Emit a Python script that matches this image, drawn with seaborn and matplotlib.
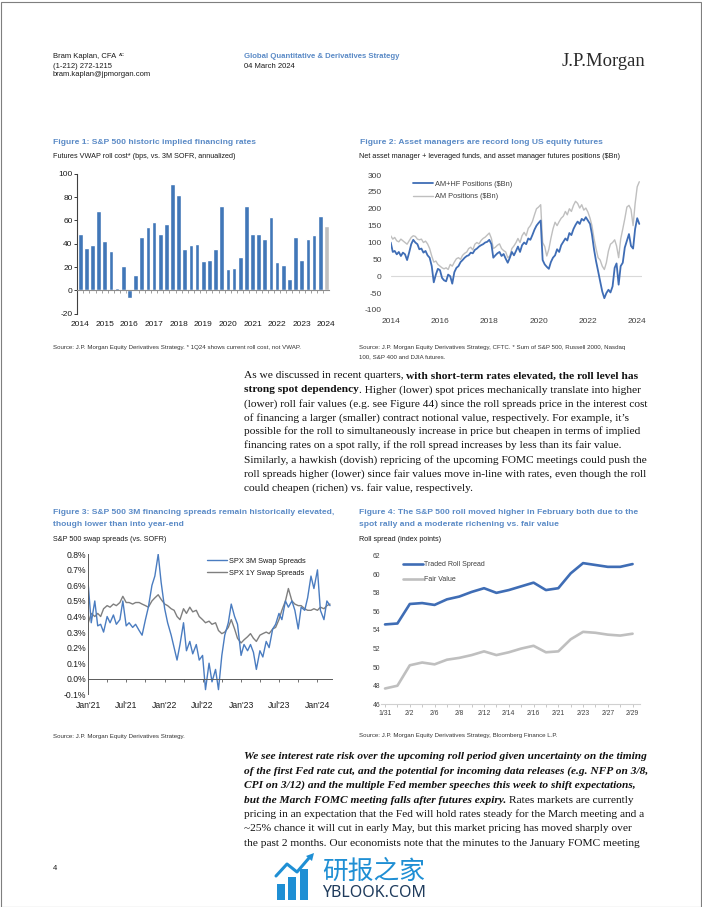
import numpy as np
import pandas as pd
import matplotlib
matplotlib.use("Agg")
import matplotlib.pyplot as plt
import matplotlib.dates as mdates
from matplotlib.patches import Rectangle, Polygon
from matplotlib.lines import Line2D
import seaborn as sns

W, H = 702, 907

# ---------------- data ----------------
# Figure 1: quarterly VWAP roll cost (bps), 1Q14 .. 1Q24 (last bar = current roll)
fig1_years = list(range(2014, 2025))
fig1_quarters = [f"{q}Q{str(y)[2:]}" for y in range(2014, 2024) for q in range(1, 5)] + ["1Q24"]
roll_cost = [48, 36.5, 38.5, 68, 42, 34, 1.7, 21, -6.5, 13, 45.5, 54.5,
             59, 48, 56.5, 91, 81.5, 35.5, 38.5, 40, 25, 26, 35.5, 72.5,
             18.5, 19.5, 29, 72, 48, 48.5, 44, 62.5, 24, 21.5, 9.5, 46,
             26, 44, 47.5, 64, 55]

# Figure 2: monthly futures positions ($Bn), Jan-2014 .. Feb-2024
am_hf = [100, 72, 75, 65, 72, 60, 70, 65, 48, 70, 95, 108,
         100, 95, 80, 82, 70, 75, 62, 55, 30, -18, 5, 22,
         18, -5, -12, -15, 5, 0, -22, 12, 25, 30, 42, 48,
         55, 60, 62, 70, 68, 78, 82, 88, 92, 95, 100, 102,
         108, 95, 55, 62, 68, 72, 60, 66, 52, 40, 55, 72,
         62, 75, 88, 72, 92, 100, 95, 112, 108, 122, 138, 150,
         158, 165, 48, 35, 28, 22, 42, 55, 62, 80, 72, 92,
         102, 112, 106, 128, 122, 140, 152, 162, 155, 170, 165, 175,
         165, 155, 125, 80, 45, 15, -15, -45, -65, -50, -40, -48,
         -30, 25, 38, -25, 30, 40, 85, 105, 125, 90, 82, 140,
         172, 155]
am_only = [120, 110, 115, 105, 102, 110, 105, 100, 95, 105, 115, 120,
           118, 110, 108, 110, 100, 104, 96, 82, 60, 42, 45, 35,
           30, 25, 22, 25, 20, 35, 30, 42, 52, 55, 50, 62,
           68, 72, 82, 86, 78, 95, 100, 96, 106, 112, 116, 122,
           128, 112, 82, 86, 92, 96, 82, 76, 72, 55, 60, 82,
           90, 100, 112, 100, 120, 130, 120, 142, 150, 162, 182, 200,
           205, 212, 100, 88, 60, 80, 112, 140, 160, 150, 162, 172,
           178, 192, 182, 200, 192, 210, 222, 216, 202, 212, 196, 202,
           190, 172, 150, 112, 82, 55, 48, 30, 20, 40, 75, 95,
           100, 108, 90, 55, 110, 140, 170, 205, 210, 198, 150, 215,
           265, 280]
fig2_years = [2014, 2016, 2018, 2020, 2022, 2024]

# Figure 3: semi-monthly swap spreads (%), 1-Jan-2021 .. 1-Mar-2024
spread_3m = [0.60, 0.36, 0.50, 0.34, 0.35, 0.30, 0.40, 0.36, 0.41, 0.35, 0.38, 0.50,
             0.34, 0.36, 0.33, 0.35, 0.31, 0.28, 0.38, 0.46, 0.60, 0.66, 0.80, 0.62,
             0.45, 0.36, 0.28, 0.20, 0.12, 0.22, 0.36, 0.18, 0.24, 0.16, 0.22, 0.12,
             0.15, -0.07, 0.10, -0.02, 0.06, -0.07, 0.15, 0.28, 0.36, 0.48, 0.40, 0.35,
             0.15, 0.22, 0.18, 0.22, 0.17, 0.06, 0.18, 0.14, 0.24, 0.20, 0.32, 0.35,
             0.42, 0.38, 0.50, 0.46, 0.50, 0.44, 0.32, 0.46, 0.44, 0.52, 0.66, 0.58,
             0.70, 0.44, 0.38, 0.50, 0.47]
spread_1y = [0.36, 0.42, 0.40, 0.42, 0.40, 0.45, 0.47, 0.46, 0.48, 0.47, 0.49, 0.53,
             0.49, 0.49, 0.48, 0.49, 0.49, 0.48, 0.47, 0.46, 0.50, 0.52, 0.54, 0.51,
             0.48, 0.47, 0.45, 0.44, 0.40, 0.38, 0.45, 0.42, 0.46, 0.43, 0.44, 0.40,
             0.38, 0.36, 0.37, 0.35, 0.36, 0.31, 0.29, 0.30, 0.33, 0.38, 0.32, 0.26,
             0.23, 0.25, 0.27, 0.29, 0.26, 0.24, 0.28, 0.29, 0.30, 0.29, 0.32, 0.33,
             0.38, 0.44, 0.50, 0.58, 0.50, 0.48, 0.47, 0.47, 0.45, 0.44, 0.44, 0.45,
             0.44, 0.46, 0.45, 0.47, 0.48]

# Figure 4: daily roll spread (index points)
roll_days = ["1/31", "2/1", "2/2", "2/5", "2/6", "2/7", "2/8", "2/9", "2/12", "2/13", "2/14",
             "2/15", "2/16", "2/20", "2/21", "2/22", "2/23", "2/26", "2/27", "2/28", "2/29"]
traded_roll = [54.6, 54.7, 56.8, 56.9, 56.7, 57.3, 57.6, 58.1, 58.5, 58.0, 58.3,
               58.7, 59.1, 58.3, 58.5, 60.1, 61.2, 61.0, 60.8, 60.8, 61.1]
fair_value = [47.7, 48.0, 50.2, 50.5, 50.3, 50.8, 51.0, 51.3, 51.7, 51.3, 51.6,
              52.0, 52.3, 51.6, 51.7, 53.0, 53.8, 53.7, 53.5, 53.4, 53.6]

# ---------------- styling ----------------
sns.set_theme(style="white")
plt.rcParams["font.family"] = ["Liberation Sans", "DejaVu Sans"]
plt.rcParams["axes.unicode_minus"] = False

TITLE_BLUE = "#5A8AC6"
BAR_BLUE = "#4177B8"
LINE_BLUE = "#3F6DB5"
LIGHT_GRAY = "#BFBFBF"
SERIF = ["Liberation Serif", "DejaVu Serif"]

fig = plt.figure(figsize=(W / 100, H / 100), dpi=100)
renderer = fig.canvas.get_renderer()


def fx(x):
    return x / W


def fy(y):
    return 1 - y / H


def axes_px(x0, y0, x1, y1):
    return fig.add_axes([fx(x0), fy(y1), (x1 - x0) / W, (y1 - y0) / H])


def txt(x, y, s, size, **kw):
    kw.setdefault("va", "center")
    kw.setdefault("color", "#1a1a1a")
    return fig.text(fx(x), fy(y), s, fontsize=size, **kw)


def runs(x, y, parts, size, family=SERIF, color="#111111"):
    # parts: (text, bold, italic); a leading space means a word gap
    cur = x
    gap = 0.25 * size * 100 / 72
    for s, b, it in parts:
        if s.startswith(" "):
            cur += gap
            s = s.lstrip()
        t = fig.text(fx(cur), fy(y), s, fontsize=size, family=family,
                     weight="bold" if b else "normal",
                     style="italic" if it else "normal",
                     va="baseline", color=color)
        cur += t.get_window_extent(renderer).width


# ---------------- header ----------------
txt(53, 57, "Bram Kaplan, CFA", 5.5)
txt(118.5, 54.5, "AC", 3.2)
txt(53, 66, "(1-212) 272-1215", 5.5)
txt(53, 75, "bram.kaplan@jpmorgan.com", 5.5)
txt(244, 57, "Global Quantitative & Derivatives Strategy", 5.6, weight="bold", color=TITLE_BLUE)
txt(244, 66, "04 March 2024", 5.5)
txt(562, 65.5, "J.P.Morgan", 13.4, family=SERIF, va="baseline", color="#2a2a2a")

# ---------------- Figure 1 ----------------
txt(53, 142.7, "Figure 1: S&P 500 historic implied financing rates", 6.1, weight="bold", color=TITLE_BLUE)
txt(53, 156.7, "Futures VWAP roll cost* (bps, vs. 3M SOFR, annualized)", 5.2)
txt(53, 347, "Source: J.P. Morgan Equity Derivatives Strategy. * 1Q24 shows current roll cost, not VWAP.",
    4.4, color="#333333")

ax1 = axes_px(77.1, 173.7, 329.4, 313.7)
df1 = pd.DataFrame({"quarter": fig1_quarters, "cost": roll_cost})
bar_colors = [BAR_BLUE] * (len(roll_cost) - 1) + [LIGHT_GRAY]
sns.barplot(data=df1, x="quarter", y="cost", hue="quarter", palette=bar_colors,
            legend=False, width=0.76, saturation=1, ax=ax1)
ax1.set_xlim(-0.5, len(roll_cost) - 0.5)
ax1.set_ylim(-20, 100)
ax1.set_yticks(range(-20, 101, 20))
ax1.set_xticks(range(0, len(roll_cost), 4))
ax1.set_xticklabels([str(y) for y in fig1_years])
ax1.set_xticks(np.arange(0.5, len(roll_cost) - 1, 1), minor=True)
ax1.set_xlabel("")
ax1.set_ylabel("")
for s in ["top", "right"]:
    ax1.spines[s].set_visible(False)
ax1.spines["bottom"].set_position(("data", 0))
ax1.spines["bottom"].set_color("#8c8c8c")
ax1.spines["bottom"].set_linewidth(0.8)
ax1.spines["left"].set_color("#404040")
ax1.spines["left"].set_linewidth(0.8)
ax1.tick_params(axis="x", which="major", length=0, pad=22, labelsize=6, colors="#1a1a1a")
ax1.tick_params(axis="x", which="minor", length=2.2, width=0.6, color="#8c8c8c", bottom=True)
ax1.tick_params(axis="y", length=2, width=0.6, pad=1.2, labelsize=6, colors="#1a1a1a", left=True)

# ---------------- Figure 2 ----------------
txt(360, 142.7, "Figure 2: Asset managers are record long US equity futures", 6.1, weight="bold", color=TITLE_BLUE)
txt(359, 157, "Net asset manager + leveraged funds, and asset manager futures positions ($Bn)", 5.2)
txt(359, 348, "Source: J.P. Morgan Equity Derivatives Strategy, CFTC. * Sum of S&P 500, Russell 2000, Nasdaq",
    4.4, color="#333333")
txt(359, 356.7, "100, S&P 400 and DJIA futures.", 4.4, color="#333333")

ax2 = axes_px(390.7, 175, 642.2, 310)
dates2 = pd.date_range("2014-01-01", periods=len(am_hf), freq="MS")
ax2.axhline(0, color="#D9D9D9", lw=0.8, zorder=0)
sns.lineplot(x=dates2, y=am_only, color=LIGHT_GRAY, lw=1.0, label="AM Positions ($Bn)", ax=ax2)
sns.lineplot(x=dates2, y=am_hf, color=LINE_BLUE, lw=1.3, label="AM+HF Positions ($Bn)", ax=ax2)
ax2.set_xlim(pd.Timestamp("2014-01-01"), pd.Timestamp("2024-03-15"))
ax2.set_ylim(-100, 300)
ax2.set_yticks(range(-100, 301, 50))
ax2.set_xticks([pd.Timestamp(f"{y}-01-01") for y in fig2_years])
ax2.set_xticklabels([str(y) for y in fig2_years])
ax2.set_xlabel("")
ax2.set_ylabel("")
sns.despine(ax=ax2, left=True, bottom=True)
ax2.tick_params(axis="both", length=0, labelsize=6, colors="#404040")
ax2.tick_params(axis="x", pad=6)
ax2.tick_params(axis="y", pad=6.5)
h, l = ax2.get_legend_handles_labels()
ax2.legend(h[::-1], l[::-1], loc="upper left", bbox_to_anchor=(fx(413), fy(180.5)),
           bbox_transform=fig.transFigure, frameon=False, fontsize=5.3, handlelength=2.7,
           handletextpad=0.3, borderpad=0, borderaxespad=0, labelspacing=0.75,
           labelcolor="#404040")

# ---------------- body paragraph 1 ----------------
body = 8.2
para1 = [
    [("As we discussed in recent quarters,", 0, 0), (" with short-term rates elevated, the roll level has", 1, 0)],
    [("strong spot dependency", 1, 0), (". Higher (lower) spot prices mechanically translate into higher", 0, 0)],
    [("(lower) roll fair values (e.g. see Figure 44) since the roll spreads price in the interest cost", 0, 0)],
    [("of financing a larger (smaller) contract notional value, respectively. For example, it\u2019s", 0, 0)],
    [("possible for the roll to simultaneously increase in price but cheapen in terms of implied", 0, 0)],
    [("financing rates on a spot rally, if the roll spread increases by less than its fair value.", 0, 0)],
    [("Similarly, a hawkish (dovish) repricing of the upcoming FOMC meetings could push the", 0, 0)],
    [("roll spreads higher (lower) since fair values move in-line with rates, even though the roll", 0, 0)],
    [("could cheapen (richen) vs. fair value, respectively.", 0, 0)],
]
for i, line in enumerate(para1):
    runs(244, 375 + 14 * i + 3.4, line, body)

# ---------------- Figure 3 ----------------
txt(53, 512.7, "Figure 3: S&P 500 3M financing spreads remain historically elevated,", 6.1,
    weight="bold", color=TITLE_BLUE)
txt(53, 524.5, "though lower than into year-end", 6.1, weight="bold", color=TITLE_BLUE)
txt(53, 539.3, "S&P 500 swap spreads (vs. SOFR)", 5.2)
txt(53, 736.7, "Source: J.P. Morgan Equity Derivatives Strategy.", 4.4, color="#333333")

ax3 = axes_px(88.3, 554.3, 331.7, 694.3)
dates3 = pd.date_range("2021-01-01", "2024-03-01", freq="SMS")
sns.lineplot(x=dates3, y=spread_1y, color="#7F7F7F", lw=1.0, label="SPX 1Y Swap Spreads", ax=ax3)
sns.lineplot(x=dates3, y=spread_3m, color="#4A7CC0", lw=1.0, label="SPX 3M Swap Spreads", ax=ax3)
ax3.set_xlim(pd.Timestamp("2021-01-01"), pd.Timestamp("2024-03-09"))
ax3.set_ylim(-0.1, 0.8)
ax3.set_yticks(np.arange(-0.1, 0.81, 0.1))
ax3.yaxis.set_major_formatter(plt.FuncFormatter(lambda v, p: f"{v:.1f}%"))
ax3.xaxis.set_major_locator(mdates.MonthLocator(bymonth=[1, 7]))
ax3.xaxis.set_minor_locator(mdates.MonthLocator(bymonth=[4, 10]))
ax3.xaxis.set_major_formatter(mdates.DateFormatter("%b'%y"))
ax3.set_xlabel("")
ax3.set_ylabel("")
for s in ["top", "right"]:
    ax3.spines[s].set_visible(False)
ax3.spines["bottom"].set_position(("data", 0))
ax3.spines["bottom"].set_color("#595959")
ax3.spines["bottom"].set_linewidth(0.7)
ax3.spines["left"].set_color("#595959")
ax3.spines["left"].set_linewidth(0.7)
ax3.tick_params(axis="x", which="both", length=2.5, width=0.6, color="#595959", bottom=True)
ax3.tick_params(axis="x", which="major", pad=13.5, labelsize=6.2, colors="#1a1a1a")
ax3.tick_params(axis="x", which="major", color="#595959")
ax3.tick_params(axis="y", length=0, pad=1.5, labelsize=6.2, colors="#1a1a1a")
h, l = ax3.get_legend_handles_labels()
ax3.legend(h[::-1], l[::-1], loc="upper left", bbox_to_anchor=(fx(206.7), fy(557.5)),
           bbox_transform=fig.transFigure, frameon=False, fontsize=5.3, handlelength=2.7,
           handletextpad=0.3, borderpad=0, borderaxespad=0, labelspacing=0.65,
           labelcolor="#1a1a1a")

# ---------------- Figure 4 ----------------
txt(359.3, 512.7, "Figure 4: The S&P 500 roll moved higher in February both due to the", 6.1,
    weight="bold", color=TITLE_BLUE)
txt(359.3, 524.5, "spot rally and a moderate richening vs. fair value", 6.1, weight="bold", color=TITLE_BLUE)
txt(359.3, 539.3, "Roll spread (index points)", 5.2)
txt(359.3, 735.3, "Source: J.P. Morgan Equity Derivatives Strategy, Bloomberg Finance L.P.", 4.4, color="#333333")

ax4 = axes_px(380.7, 555.7, 640, 704.3)
pos4 = np.arange(len(roll_days))
sns.lineplot(x=pos4, y=traded_roll, color=LINE_BLUE, lw=1.9, label="Traded Roll Spread", ax=ax4)
sns.lineplot(x=pos4, y=fair_value, color=LIGHT_GRAY, lw=1.9, label="Fair Value", ax=ax4)
ax4.set_xlim(-0.35, 20.6)
ax4.set_ylim(46, 62)
ax4.set_yticks(range(46, 63, 2))
ax4.set_xticks(pos4[::2])
ax4.set_xticklabels(roll_days[::2])
ax4.set_xticks(pos4[1::2], minor=True)
sns.despine(ax=ax4, left=True)
ax4.spines["bottom"].set_color("#D0D0D0")
ax4.spines["bottom"].set_linewidth(0.8)
ax4.tick_params(axis="x", which="both", length=2, width=0.6, color="#BFBFBF", bottom=True)
ax4.tick_params(axis="x", which="major", pad=2, labelsize=4.9, colors="#404040")
ax4.tick_params(axis="x", which="major", color="#BFBFBF")
ax4.tick_params(axis="y", length=0, pad=0.5, labelsize=4.9, colors="#404040")
ax4.legend(loc="upper left", bbox_to_anchor=(fx(402.7), fy(561.5)),
           bbox_transform=fig.transFigure, frameon=False, fontsize=5.0, handlelength=2.9,
           handletextpad=0.1, borderpad=0, borderaxespad=0, labelspacing=1.15,
           labelcolor="#404040")

# ---------------- body paragraph 2 ----------------
para2 = [
    [("We see interest rate risk over the upcoming roll period given uncertainty on the timing", 1, 1)],
    [("of the first Fed rate cut, and the potential for incoming data releases (e.g. NFP on 3/8,", 1, 1)],
    [("CPI on 3/12) and the multiple Fed member speeches this week to shift expectations,", 1, 1)],
    [("but the March FOMC meeting falls after futures expiry.", 1, 1), (" Rates markets are currently", 0, 0)],
    [("pricing in an expectation that the Fed will hold rates steady for the March meeting and a", 0, 0)],
    [("~25% chance it will cut in early May, but this market pricing has moved sharply over", 0, 0)],
    [("the past 2 months. Our economists note that the minutes to the January FOMC meeting", 0, 0)],
]
for i, line in enumerate(para2):
    runs(244, 756 + 14.4 * i + 3.4, line, body)

# ---------------- footer ----------------
txt(53, 868, "4", 5.5)
wm_blue = "#1F8FD4"
for x0, top in [(277, 884), (288, 877), (300, 869)]:
    fig.patches.append(Rectangle((fx(x0), fy(900)), 8 / W, (900 - top) / H,
                                 transform=fig.transFigure, color=wm_blue, lw=0))
fig.lines.append(Line2D([fx(276), fx(287), fx(297), fx(309)], [fy(876), fy(864), fy(872), fy(858)],
                        transform=fig.transFigure, color=wm_blue, lw=2.2))
fig.patches.append(Polygon([(fx(306), fy(856)), (fx(314), fy(853)), (fx(312), fy(861))],
                           transform=fig.transFigure, color=wm_blue, lw=0))
txt(322, 872, "研报之家", 18.5, family=["Noto Sans CJK SC", "DejaVu Sans"], color=wm_blue)
txt(322, 893, "YBLOOK.COM", 11.5, family=["Noto Sans", "DejaVu Sans"], color="#1F3B5C")

# page frame
fig.patches.append(Rectangle((0.5 / W, 0.5 / H), (W - 1.5) / W, (H - 2) / H,
                             transform=fig.transFigure, fill=False, edgecolor="#7f7f7f", lw=0.8))

fig.savefig("out.png", dpi=100)
